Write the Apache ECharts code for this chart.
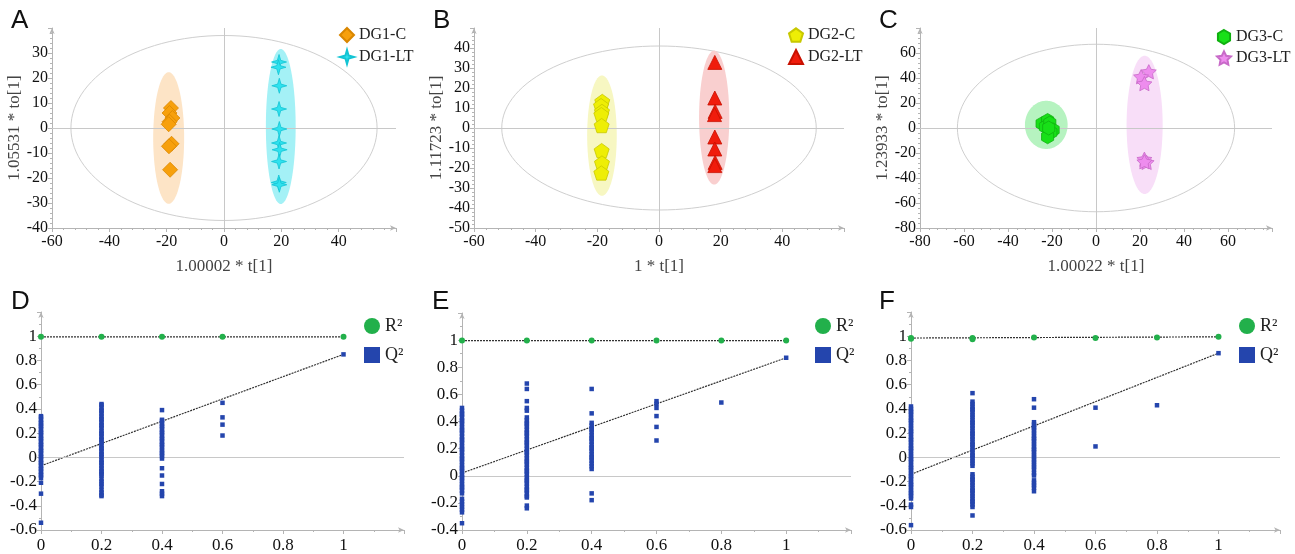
<!DOCTYPE html>
<html><head><meta charset="utf-8">
<script src="https://cdn.jsdelivr.net/npm/echarts@6/dist/echarts.min.js"></script>
<style>html,body{margin:0;padding:0;background:#fff}#c{width:1295px;height:554px}</style>
</head><body><div id="c"></div>
<script>
// ---------- DATA ----------
// Panel A (OPLS-DA scores)
const dg1C  = [[-18.5,8],[-19,6],[-18,4],[-19,2.5],[-19.3,1.5],[-18.3,-6.3],[-19.2,-7.3],[-18.8,-16.7]];
const dg1LT = [[19.2,26.4],[19,24.3],[19.3,16.9],[19.2,7.6],[19.3,-0.4],[19.2,-6],[19.4,-8.7],[19.2,-13.4],[19.1,-21.8],[19.3,-22.7]];
const ellA  = [[-19.3,-4,5.4,26.3],[19.8,0.6,5.2,31]];
const hotA  = [[0,0,53.4,37]];
// Panel B
const dg2C  = [[-18.4,13.3],[-18.8,11.2],[-18.5,8.3],[-18.7,6.7],[-18.6,1.2],[-18.6,-11.3],[-18.5,-17.5],[-18.7,-22.5]];
const dg2LT = [[18.1,32.8],[18.1,15],[18.2,8.3],[18,6.7],[18.1,-4.5],[18.1,-10.5],[18.2,-17.2],[18.1,-18.8]];
const ellB  = [[-18.5,-3.8,4.8,30.1],[17.9,5.2,4.9,33.5]];
const hotB  = [[0,0,51,41]];
// Panel C
const dg3C  = [[-24.5,3.5],[-22,6],[-23,1],[-21,4],[-19.5,-1.5],[-20.5,-3.5],[-22,-7],[-21.5,0]];
const dg3LT = [[24,45],[20.5,41],[22,35.5],[22,-25],[23,-27.5],[22,-27]];
const ellC  = [[-22.6,2.5,9.7,19.3],[22.1,2.5,8.2,55.3]];
const hotC  = [[0,0,63,67]];
// Panels D,E,F (permutation tests)
const dR2x = [0,0.2,0.4,0.6,1];
const dR2  = [0.995,0.995,0.995,0.995,0.995];
const dQ0  = [0.34,0.33,0.31,0.29,0.28,0.26,0.25,0.23,0.21,0.20,0.18,0.16,0.15,0.13,0.11,0.10,0.08,0.06,0.05,0.03,0.01,0.00,-0.02,-0.04,-0.05,-0.07,-0.09,-0.10,-0.12,-0.14,-0.15,-0.17,-0.21,-0.30,-0.54];
const dQ02 = [0.44,0.43,0.41,0.39,0.38,0.36,0.34,0.32,0.31,0.29,0.27,0.26,0.24,0.22,0.20,0.19,0.17,0.15,0.14,0.12,0.10,0.08,0.07,0.05,0.03,0.02,0.00,-0.02,-0.04,-0.05,-0.07,-0.09,-0.11,-0.12,-0.14,-0.15,-0.18,-0.20,-0.22,-0.24,-0.27,-0.29,-0.31,-0.32];
const dQ04 = [0.39,0.31,0.30,0.28,0.26,0.25,0.23,0.21,0.20,0.18,0.16,0.15,0.13,0.11,0.10,0.08,0.06,0.04,0.03,0.01,-0.01,-0.09,-0.15,-0.22,-0.28,-0.30,-0.32];
const dQ06 = [0.45,0.33,0.27,0.18];
const dQ1  = [0.85];
const dR2Line = [[0,0.995],[1,0.995]];
const dQ2Line = [[0,-0.07],[1,0.85]];

const eR2x = [0,0.2,0.4,0.6,0.8,1];
const eR2  = [0.997,0.997,0.997,0.997,0.997,0.997];
const eQ0  = [0.50,0.48,0.46,0.45,0.43,0.41,0.40,0.38,0.36,0.34,0.33,0.31,0.29,0.27,0.26,0.24,0.22,0.20,0.19,0.17,0.15,0.13,0.12,0.10,0.08,0.06,0.05,0.03,0.01,-0.01,-0.02,-0.04,-0.06,-0.08,-0.09,-0.11,-0.13,-0.17,-0.19,-0.21,-0.23,-0.25,-0.27,-0.35];
const eQ02 = [0.68,0.64,0.55,0.50,0.48,0.43,0.41,0.39,0.38,0.36,0.34,0.32,0.31,0.29,0.27,0.25,0.24,0.22,0.20,0.18,0.17,0.15,0.13,0.11,0.10,0.08,0.06,0.04,0.03,0.01,-0.01,-0.03,-0.04,-0.06,-0.08,-0.10,-0.11,-0.13,-0.15,-0.16,-0.22,-0.24];
const eQ04 = [0.64,0.46,0.39,0.37,0.35,0.34,0.32,0.30,0.28,0.27,0.25,0.23,0.21,0.20,0.18,0.16,0.14,0.13,0.11,0.09,0.07,0.05,-0.13,-0.18];
const eQ06 = [0.55,0.53,0.50,0.44,0.36,0.26];
const eQ08 = [0.54];
const eQ1  = [0.87];
const eR2Line = [[0,0.997],[1,0.997]];
const eQ2Line = [[0,0.02],[1,0.87]];

const fR2x = [0,0,0.2,0.2,0.4,0.6,0.8,1];
const fR2  = [0.985,0.98,0.985,0.975,0.99,0.985,0.99,0.995];
const fQ0  = [0.42,0.40,0.38,0.37,0.35,0.33,0.31,0.30,0.28,0.26,0.24,0.22,0.21,0.19,0.17,0.15,0.14,0.12,0.10,0.08,0.07,0.05,0.03,0.01,-0.01,-0.02,-0.04,-0.06,-0.08,-0.09,-0.11,-0.13,-0.15,-0.16,-0.18,-0.20,-0.22,-0.23,-0.25,-0.27,-0.29,-0.30,-0.32,-0.34,-0.39,-0.41,-0.56];
const fQ02 = [0.53,0.46,0.44,0.42,0.40,0.39,0.37,0.35,0.33,0.31,0.29,0.28,0.26,0.24,0.22,0.20,0.19,0.17,0.15,0.13,0.11,0.10,0.08,0.06,0.04,0.02,0.01,-0.01,-0.03,-0.05,-0.07,-0.14,-0.16,-0.18,-0.19,-0.21,-0.23,-0.25,-0.27,-0.28,-0.30,-0.32,-0.34,-0.36,-0.37,-0.39,-0.41,-0.48];
const fQ04 = [0.48,0.41,0.29,0.27,0.25,0.24,0.22,0.20,0.18,0.16,0.15,0.13,0.11,0.09,0.07,0.06,0.04,0.02,0.00,-0.02,-0.04,-0.06,-0.08,-0.10,-0.13,-0.15,-0.19,-0.21,-0.23,-0.25,-0.28];
const fQ06 = [0.41,0.09];
const fQ08 = [0.43];
const fQ1  = [0.86];
const fR2Line = [[0,0.985],[1,0.995]];
const fQ2Line = [[0,-0.14],[1,0.86]];

const panelLetters = ['A','B','C','D','E','F'];
const xNames = ['1.00002 * t[1]','1 * t[1]','1.00022 * t[1]'];
const yNames = ['1.05531 * to[1]','1.11723 * to[1]','1.23933 * to[1]'];

// ---------- STYLE / BUILD ----------
const SERIF = '"Liberation Serif","Times New Roman",serif';
const SANS = '"Liberation Sans",Arial,sans-serif';
const star4 = 'path://M0,-10 L2.2,-2.2 L10,0 L2.2,2.2 L0,10 L-2.2,2.2 L-10,0 L-2.2,-2.2 Z';
const star5 = 'path://M0,-10 L2.94,-4.05 L9.51,-3.09 L4.76,1.55 L5.88,8.09 L0,5 L-5.88,8.09 L-4.76,1.55 L-9.51,-3.09 L-2.94,-4.05 Z';
const pent  = 'path://M0,-10 L9.51,-3.09 L5.88,8.09 L-5.88,8.09 L-9.51,-3.09 Z';
const hexa  = 'path://M0,-10 L8.66,-5 L8.66,5 L0,10 L-8.66,5 L-8.66,-5 Z';

const grids = [
  {left:52, top:28, width:344, height:200},
  {left:474, top:28, width:370, height:200},
  {left:920, top:28, width:352, height:200},
  {left:41, top:312, width:363, height:222},
  {left:462, top:313, width:389, height:222},
  {left:911, top:312, width:369, height:222}
];
const axCol = '#b4b4b4';
function xAx(i, min, max, interval, showMax, name){
  return {type:'value', gridIndex:i, min, max, interval,
    axisLine:{onZero:false, lineStyle:{color:axCol}, symbol:['none','arrow'], symbolSize:[4,6]},
    axisTick:{show:true, length:4, lineStyle:{color:axCol}},
    minorTick:{show:true, splitNumber: i<3?5:2, length:2, lineStyle:{color:axCol}},
    splitLine:{show:false},
    axisLabel:{showMaxLabel:showMax, color:'#111', fontFamily:SERIF, fontSize: i<3?16:17, margin: i<3?6:7},
    name: name||'', nameLocation:'middle', nameGap:30,
    nameTextStyle:{fontFamily:SERIF, fontSize:17, color:'#444'}};
}
function yAx(i, min, max, interval, name, gap){
  return {type:'value', gridIndex:i, min, max, interval,
    axisLine:{onZero:false, lineStyle:{color:axCol}, symbol:['none','arrow'], symbolSize:[4,6]},
    axisTick:{show:true, length:4, lineStyle:{color:axCol}},
    minorTick:{show:true, splitNumber: i<3?5:2, length:2, lineStyle:{color:axCol}},
    splitLine:{show:false},
    axisLabel:{showMaxLabel:false, color:'#111', fontFamily:SERIF, fontSize: i<3?16:17, margin:4},
    name: name||'', nameLocation:'middle', nameGap:gap||36, nameRotate:90,
    nameTextStyle:{fontFamily:SERIF, fontSize:17, color:'#444'}};
}
const xAxis = [
  xAx(0,-60,60,20,false,xNames[0]), xAx(1,-60,60,20,false,xNames[1]), xAx(2,-80,80,20,false,xNames[2]),
  xAx(3,0,1.2,0.2,false), xAx(4,0,1.2,0.2,false), xAx(5,0,1.2,0.2,false)
];
const yAxis = [
  yAx(0,-40,40,10,yNames[0],29), yAx(1,-50,50,10,yNames[1],28), yAx(2,-80,80,20,yNames[2],25),
  yAx(3,-0.6,1.2,0.2), yAx(4,-0.4,1.2,0.2), yAx(5,-0.6,1.2,0.2)
];

function ellipseSeries(i, data, fills, strokes, z){
  return {type:'custom', xAxisIndex:i, yAxisIndex:i, data, z, silent:true, clip:false,
    renderItem:function(params, api){
      const cx=api.value(0), cy=api.value(1), rx=api.value(2), ry=api.value(3);
      const pts=[];
      for(let k=0;k<120;k++){const t=k/120*2*Math.PI; pts.push(api.coord([cx+rx*Math.cos(t), cy+ry*Math.sin(t)]));}
      return {type:'polygon', shape:{points:pts},
        style:{fill:fills[params.dataIndex], stroke:strokes[params.dataIndex], lineWidth:1}};
    }};
}
function zeroLines(i, both){
  const d=[{yAxis:0}]; if(both) d.push({xAxis:0});
  return {type:'scatter', xAxisIndex:i, yAxisIndex:i, data:[], silent:true,
    markLine:{silent:true, symbol:'none', label:{show:false}, animation:false,
      lineStyle:{color:'#c8c8c8', type:'solid', width:1}, data:d}};
}
function sc(i, name, data, symbol, size, color, border, z){
  return {type:'scatter', name, xAxisIndex:i, yAxisIndex:i, data, symbol, symbolSize:size,
    symbolKeepAspect:true, z:z||5,
    itemStyle:{color, borderColor:border, borderWidth:border?0.8:0, opacity:1}};
}
function stack(x, arr){ return arr.map(v=>[x,v]); }
function pairs(xs, ys){ return xs.map((x,k)=>[x,ys[k]]); }
function dline(i, data){
  return {type:'line', xAxisIndex:i, yAxisIndex:i, data, symbol:'none', silent:true, z:4,
    lineStyle:{color:'#333', width:1.2, type:[2,1]}};
}

const Q2C = '#2445ad', R2C = '#22b04b';
const series = [
  zeroLines(0,true), zeroLines(1,true), zeroLines(2,true),
  zeroLines(3,false), zeroLines(4,false), zeroLines(5,false),
  ellipseSeries(0, hotA, ['none'], ['#cfcfcf'], 1),
  ellipseSeries(1, hotB, ['none'], ['#cfcfcf'], 1),
  ellipseSeries(2, hotC, ['none'], ['#cfcfcf'], 1),
  ellipseSeries(0, ellA, ['#fde4c6','#a4f1f6'], ['none','none'], 2),
  ellipseSeries(1, ellB, ['#f7f7c2','#f9cfcf'], ['none','none'], 2),
  ellipseSeries(2, ellC, ['#b6f3c0','#f8def8'], ['none','none'], 2),
  sc(0,'DG1-C', dg1C, 'diamond', 15, '#f7a00c', '#d98600'),
  sc(0,'DG1-LT', dg1LT, star4, 15, '#2fe2ee', '#12c4d4'),
  sc(1,'DG2-C', dg2C, pent, 15, '#eeee05', '#c8c800'),
  sc(1,'DG2-LT', dg2LT, 'triangle', 14, '#f01c0c', '#c81000'),
  sc(2,'DG3-C', dg3C, hexa, 14, '#18e018', '#10b010'),
  sc(2,'DG3-LT', dg3LT, star5, 15, '#ee8cee', '#c86ac8'),
  // D
  dline(3, dR2Line), dline(3, dQ2Line),
  sc(3,'R²', pairs(dR2x,dR2), 'circle', 6, R2C),
  sc(3,'Q²', [].concat(stack(0,dQ0),stack(0.2,dQ02),stack(0.4,dQ04),stack(0.6,dQ06),stack(1,dQ1)), 'rect', 4.5, Q2C),
  // E
  dline(4, eR2Line), dline(4, eQ2Line),
  sc(4,'R²', pairs(eR2x,eR2), 'circle', 6, R2C),
  sc(4,'Q²', [].concat(stack(0,eQ0),stack(0.2,eQ02),stack(0.4,eQ04),stack(0.6,eQ06),stack(0.8,eQ08),stack(1,eQ1)), 'rect', 4.5, Q2C),
  // F
  dline(5, fR2Line), dline(5, fQ2Line),
  sc(5,'R²', pairs(fR2x,fR2), 'circle', 6, R2C),
  sc(5,'Q²', [].concat(stack(0,fQ0),stack(0.2,fQ02),stack(0.4,fQ04),stack(0.6,fQ06),stack(0.8,fQ08),stack(1,fQ1)), 'rect', 4.5, Q2C)
];

function lg(names, left, top, size, gap, fs){
  return {data:names, left, top, orient:'vertical', itemWidth:size, itemHeight:size, itemGap:gap,
    selectedMode:false, padding:0, textStyle:{fontFamily:SERIF, fontSize:fs, color:'#222', lineHeight:size}};
}
const legend = [
  lg(['DG1-C','DG1-LT'], 339, 27, 14, 6, 16),
  lg(['DG2-C','DG2-LT'], 788, 27, 14, 6, 16),
  lg(['DG3-C','DG3-LT'], 1216, 29, 14, 5, 16),
  lg(['R²','Q²'], 364, 317, 16, 11, 18),
  lg(['R²','Q²'], 815, 317, 16, 11, 18),
  lg(['R²','Q²'], 1239, 317, 16, 11, 18)
];
const letterPos = [[11,8],[433,8],[879,8],[11,289],[432,289],[879,289]];
const title = panelLetters.map((t,k)=>({text:t, left:letterPos[k][0], top:letterPos[k][1], padding:0,
  textStyle:{fontFamily:SANS, fontSize:26, fontWeight:'normal', color:'#111'}}));

const chart = echarts.init(document.getElementById('c'), null, {renderer:'canvas'});
chart.setOption({backgroundColor:'#fff', animation:false, title, legend, grid:grids, xAxis, yAxis, series});
</script></body></html>
